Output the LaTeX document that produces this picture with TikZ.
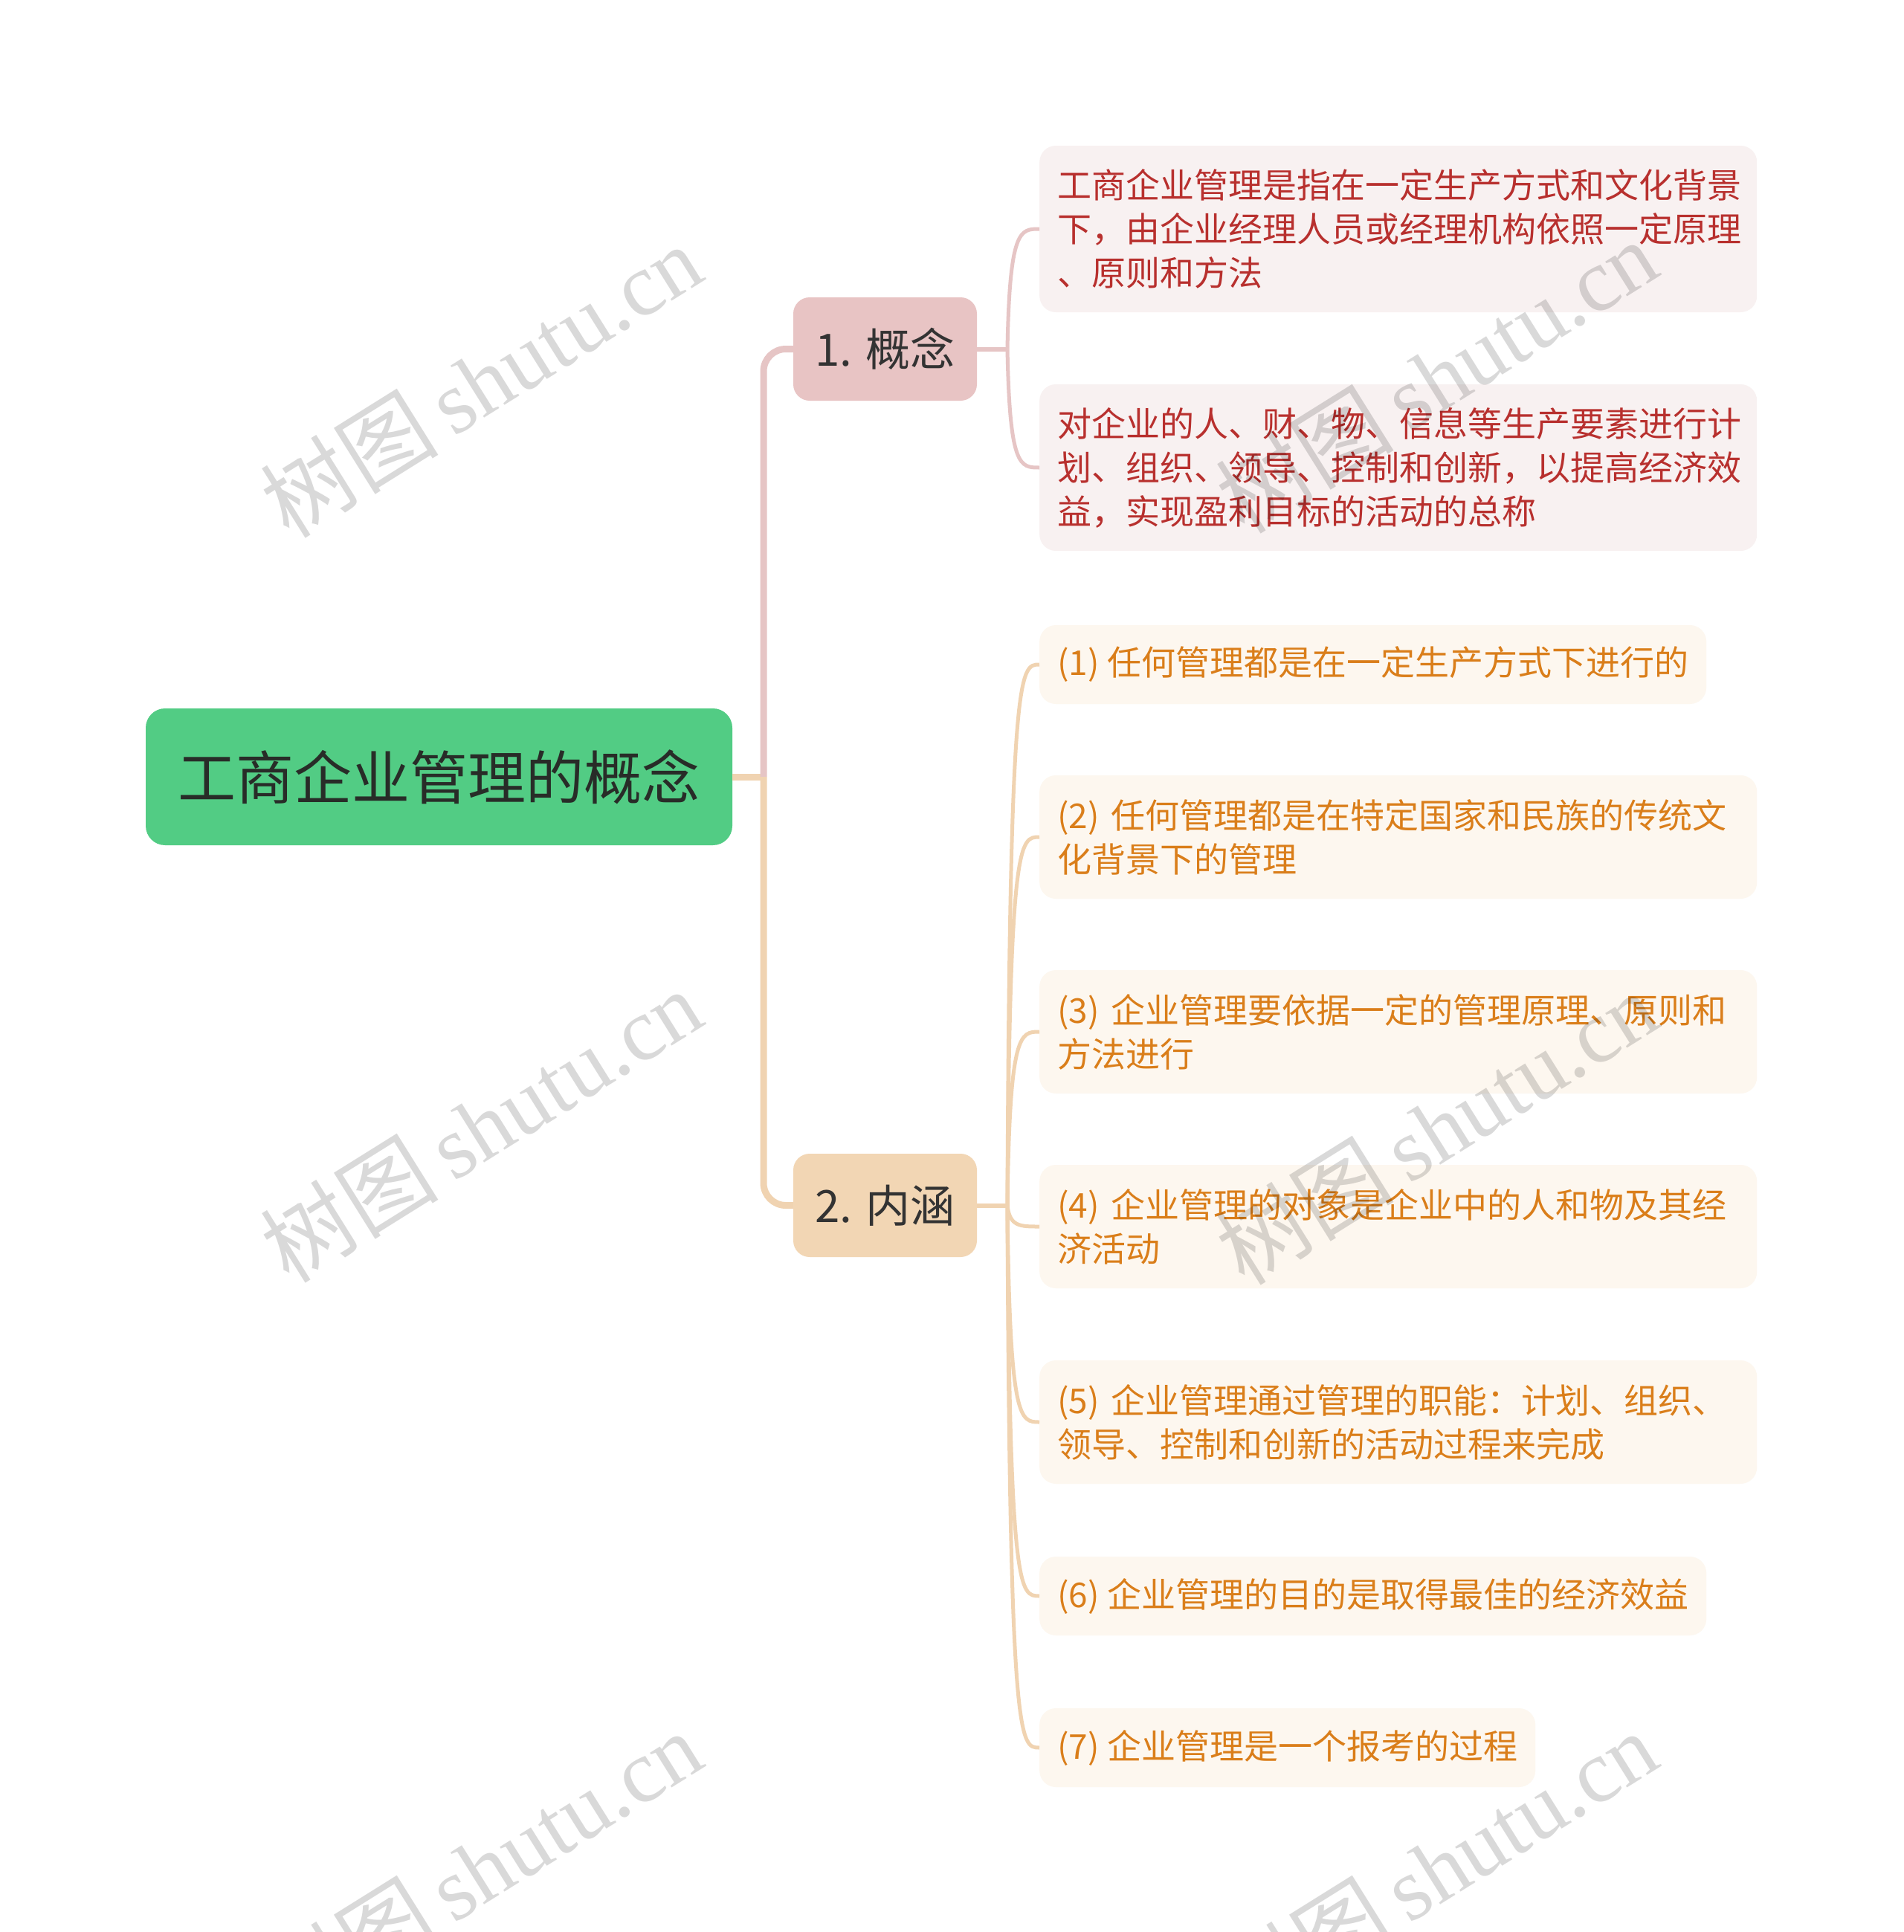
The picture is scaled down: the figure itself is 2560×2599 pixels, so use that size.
\documentclass[tikz,border=0pt]{standalone}
\usepackage{fontspec}
\setmainfont{Noto Sans CJK SC}
\newfontfamily\wmlatin{Liberation Serif}
\newfontfamily\wmcjk{Noto Sans CJK SC}
\usetikzlibrary{calc}
\definecolor{rootgreen}{RGB}{82,204,132}
\definecolor{roottext}{RGB}{40,44,40}
\definecolor{pinkbranch}{RGB}{232,196,196}
\definecolor{orangebranch}{RGB}{242,214,180}
\definecolor{pinkline}{RGB}{230,197,197}
\definecolor{orangeline}{RGB}{240,211,177}
\definecolor{pinkleaf}{RGB}{248,241,241}
\definecolor{orangeleaf}{RGB}{253,247,239}
\definecolor{pinktext}{RGB}{184,48,46}
\definecolor{orangetext}{RGB}{218,126,26}
\definecolor{darktext}{RGB}{51,51,51}
\tikzset{
  rootbox/.style={fill=rootgreen, rounded corners=26pt, minimum width=789pt, minimum height=184pt,
    text=roottext, font=\fontsize{78}{94}\selectfont, inner sep=0pt},
  branchbox/.style={rounded corners=22pt, minimum width=247pt, minimum height=139pt,
    text=darktext, font=\fontsize{60}{72}\selectfont, inner sep=0pt},
  leafbox/.style={rounded corners=22pt, inner xsep=24pt, inner ysep=0pt, align=left,
    font=\fontsize{46}{59}\selectfont, anchor=west},
  pleaf/.style={leafbox, fill=pinkleaf, text=pinktext},
  oleaf/.style={leafbox, fill=orangeleaf, text=orangetext},
  widebox/.style={text width=917pt},
  oneline/.style={minimum height=106pt},
  twoline/.style={minimum height=166pt},
  threeline/.style={minimum height=224pt},
  trunkpink/.style={line width=9pt, pinkline},
  trunkorange/.style={line width=9pt, orangeline},
  stubpink/.style={line width=6pt, pinkline},
  stuborange/.style={line width=6pt, orangeline},
  curvepink/.style={line width=5pt, pinkline},
  curveorange/.style={line width=5pt, orangeline},
  wmark/.style={rotate=32, text=black, text opacity=0.15, inner sep=0pt,
    font=\fontsize{120}{120}\selectfont}
}
\begin{document}
\begin{tikzpicture}[x=1pt, y=-1pt]
\useasboundingbox (0,0) rectangle (2560,2599);
\fill[white] (0,0) rectangle (2560,2599);

% nodes
\node[rootbox] (root) at (590.5,1045) {工商企业管理的概念};
\node[branchbox, fill=pinkbranch] (b1) at (1190.5,469.5) {1. 概念};
\node[branchbox, fill=orangebranch] (b2) at (1190.5,1621.5) {2. 内涵};

\node[pleaf, widebox, threeline] (p1) at (1398,308) {工商企业管理是指在一定生产方式和文化背景\\下，由企业经理人员或经理机构依照一定原理\\、原则和方法};
\node[pleaf, widebox, threeline] (p2) at (1398,629) {对企业的人、财、物、信息等生产要素进行计\\划、组织、领导、控制和创新，以提高经济效\\益，实现盈利目标的活动的总称};

\node[oleaf, oneline] (o1) at (1398,894) {(1) 任何管理都是在一定生产方式下进行的};
\node[oleaf, widebox, twoline] (o2) at (1398,1126) {(2) 任何管理都是在特定国家和民族的传统文\\化背景下的管理};
\node[oleaf, widebox, twoline] (o3) at (1398,1388) {(3) 企业管理要依据一定的管理原理、原则和\\方法进行};
\node[oleaf, widebox, twoline] (o4) at (1398,1650) {(4) 企业管理的对象是企业中的人和物及其经\\济活动};
\node[oleaf, widebox, twoline] (o5) at (1398,1913) {(5) 企业管理通过管理的职能：计划、组织、\\领导、控制和创新的活动过程来完成};
\node[oleaf, oneline] (o6) at (1398,2147) {(6) 企业管理的目的是取得最佳的经济效益};
\node[oleaf, oneline] (o7) at (1398,2351) {(7) 企业管理是一个报考的过程};

% junctions
\coordinate (j0) at (1027,1045);
\coordinate (j1) at (1355,469.5);
\coordinate (j2) at (1355,1621.5);

% trunk connectors
\draw[trunkorange] (root.east) -- (j0);
\draw[trunkpink, rounded corners=30pt] (j0) |- (b1.west);
\draw[trunkorange, rounded corners=30pt] (j0) |- (b2.west);

% branch stubs
\draw[stubpink] (b1.east) -- (j1);
\draw[stuborange] (b2.east) -- (j2);

% curves to leaves
\foreach \n in {p1,p2} {
  \draw[curvepink] (j1) .. controls ($(j1|-\n.west)+(3,0)$) and ($(\n.west)+(-26,0)$) .. (\n.west);
}
\foreach \n in {o1,o2,o3,o4,o5,o6,o7} {
  \draw[curveorange] (j2) .. controls ($(j2|-\n.west)+(3,0)$) and ($(\n.west)+(-26,0)$) .. (\n.west);
}

% watermarks
\foreach \wx/\wy/\nm in {647/512/wa, 1932/506/wb, 647/1514/wc, 1932/1517/wd, 647/2512/we, 1932/2512/wf} {
  \node[wmark] (\nm) at (\wx,\wy) {{\wmcjk 树图}\,{\wmlatin shutu.cn}};
}
\end{tikzpicture}
\end{document}
